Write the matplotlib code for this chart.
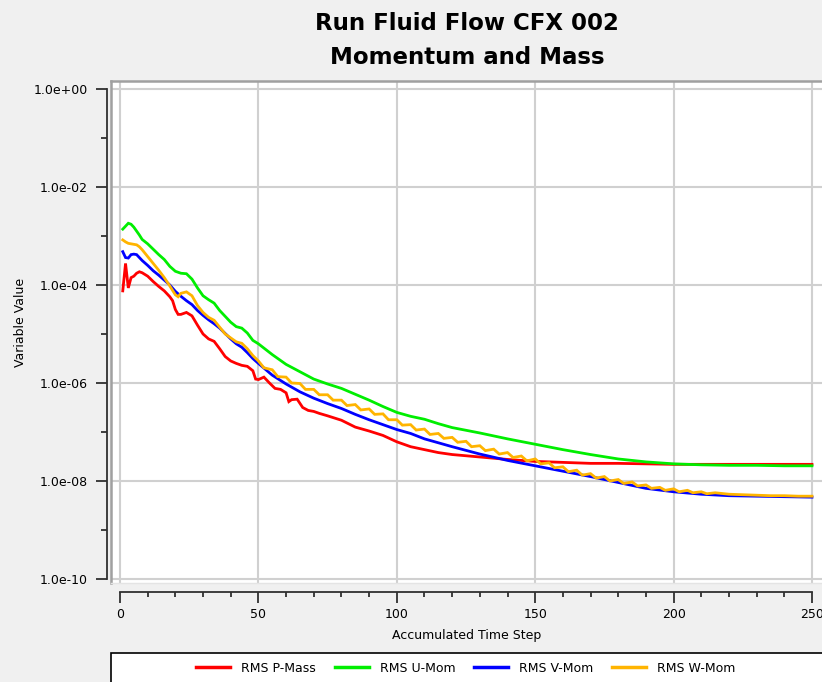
import numpy as np
import matplotlib
matplotlib.use("Agg")
import matplotlib.pyplot as plt
from matplotlib.lines import Line2D
from matplotlib.patches import Rectangle
from matplotlib.ticker import FixedLocator, NullLocator, NullFormatter

# residual histories, stored as log10 of the RMS value
p_mass_steps = [1, 2, 3, 4, 5, 6, 7, 8, 10, 12, 14, 16, 18, 19, 20, 21, 22, 24, 26, 28,
                30, 32, 34, 36, 38, 40, 42, 44, 46, 48, 49, 50, 52, 54, 56, 58, 60, 61,
                62, 64, 66, 68, 70, 72, 75, 80, 85, 90, 95, 100, 105, 110, 115, 120,
                130, 140, 150, 160, 170, 180, 190, 200, 210, 220, 230, 240, 250]
p_mass_log10 = [-4.12, -3.56, -4.06, -3.85, -3.82, -3.76, -3.73, -3.75, -3.82, -3.93,
                -4.03, -4.12, -4.24, -4.32, -4.50, -4.60, -4.60, -4.56, -4.63, -4.82,
                -5.00, -5.10, -5.15, -5.30, -5.46, -5.55, -5.60, -5.64, -5.66, -5.75,
                -5.92, -5.93, -5.88, -6.00, -6.11, -6.13, -6.20, -6.38, -6.34, -6.33,
                -6.50, -6.56, -6.58, -6.62, -6.67, -6.76, -6.90, -6.98, -7.07, -7.20,
                -7.30, -7.36, -7.42, -7.46, -7.51, -7.56, -7.60, -7.62, -7.64, -7.64,
                -7.65, -7.66, -7.66, -7.66, -7.66, -7.66, -7.66]

mom_steps = [1, 2, 3, 4, 5, 6, 7, 8, 10, 12, 14, 16, 18, 20, 22, 24, 26, 28, 30, 32,
             34, 36, 38, 40, 42, 44, 46, 48, 50, 55, 60, 65, 70, 75, 80, 85, 90, 95,
             100, 105, 110, 115, 120, 130, 140, 150, 160, 170, 180, 190, 200, 210,
             220, 230, 240, 250]
u_mom_log10 = [-2.86, -2.80, -2.74, -2.76, -2.82, -2.90, -2.98, -3.07, -3.16, -3.27,
               -3.38, -3.48, -3.62, -3.72, -3.76, -3.77, -3.88, -4.06, -4.22, -4.30,
               -4.37, -4.52, -4.64, -4.76, -4.85, -4.88, -4.98, -5.13, -5.20, -5.42,
               -5.62, -5.77, -5.92, -6.02, -6.11, -6.23, -6.35, -6.48, -6.60, -6.68,
               -6.74, -6.83, -6.91, -7.02, -7.14, -7.25, -7.36, -7.46, -7.55, -7.61,
               -7.65, -7.67, -7.68, -7.68, -7.69, -7.69]
v_mom_log10 = [-3.32, -3.44, -3.45, -3.38, -3.37, -3.38, -3.44, -3.50, -3.60, -3.71,
               -3.80, -3.90, -4.00, -4.13, -4.23, -4.32, -4.40, -4.52, -4.62, -4.71,
               -4.79, -4.88, -4.99, -5.10, -5.20, -5.27, -5.38, -5.50, -5.60, -5.84,
               -6.02, -6.18, -6.31, -6.42, -6.52, -6.64, -6.75, -6.85, -6.95, -7.03,
               -7.14, -7.22, -7.30, -7.45, -7.58, -7.69, -7.80, -7.91, -8.03, -8.15,
               -8.22, -8.27, -8.30, -8.31, -8.32, -8.33]

w_mom_steps = [1, 2, 3, 4, 5, 6, 7, 8, 10, 12, 14, 16, 18, 20, 21, 22, 24, 26, 28, 30,
               32, 34, 36, 38, 40, 42, 44, 46, 48, 50, 52, 55, 57, 60, 62, 65, 67, 70,
               72, 75, 77, 80, 82, 85, 87, 90, 92, 95, 97, 100, 102, 105, 107, 110,
               112, 115, 117, 120, 122, 125, 127, 130, 132, 135, 137, 140, 142, 145,
               147, 150, 152, 155, 157, 160, 162, 165, 167, 170, 172, 175, 177, 180,
               182, 185, 187, 190, 192, 195, 197, 200, 202, 205, 207, 210, 212, 215,
               220, 225, 230, 235, 240, 245, 250]
w_mom_log10 = [-3.08, -3.12, -3.15, -3.16, -3.17, -3.18, -3.22, -3.28, -3.42, -3.56,
               -3.70, -3.85, -4.02, -4.20, -4.24, -4.17, -4.14, -4.22, -4.42, -4.56,
               -4.66, -4.72, -4.86, -5.00, -5.08, -5.16, -5.19, -5.30, -5.44, -5.55,
               -5.69, -5.73, -5.87, -5.88, -6.00, -6.01, -6.13, -6.13, -6.24, -6.24,
               -6.35, -6.35, -6.46, -6.44, -6.55, -6.53, -6.64, -6.63, -6.75, -6.75,
               -6.86, -6.85, -6.96, -6.94, -7.05, -7.03, -7.13, -7.11, -7.21, -7.19,
               -7.30, -7.28, -7.38, -7.35, -7.45, -7.42, -7.52, -7.49, -7.59, -7.55,
               -7.65, -7.63, -7.73, -7.71, -7.81, -7.78, -7.88, -7.85, -7.94, -7.91,
               -8.00, -7.97, -8.05, -8.02, -8.10, -8.08, -8.15, -8.13, -8.19, -8.16,
               -8.22, -8.19, -8.24, -8.22, -8.26, -8.24, -8.27, -8.28, -8.29, -8.30,
               -8.30, -8.31, -8.31]

labels = ["RMS P-Mass", "RMS U-Mom", "RMS V-Mom", "RMS W-Mom"]
colors = ["#ff0000", "#00ee00", "#0000ff", "#ffb400"]

x_ticks = [0, 50, 100, 150, 200, 250]
y_ticks = [1e0, 1e-2, 1e-4, 1e-6, 1e-8, 1e-10]
y_minor = [1e-1, 1e-3, 1e-5, 1e-7, 1e-9]

W, H = 822, 682
fig = plt.figure(figsize=(W / 100, H / 100), dpi=100, facecolor="#f0f0f0")

# plot area in pixels
left, top, bottom = 111, 81, 583
x0_px, px_per_step = 120, 2.768
xlim = ((left - x0_px) / px_per_step, (W - x0_px) / px_per_step)
px_per_dec = 49.0
ylim = (10 ** (-10 - 4 / px_per_dec), 10 ** (8 / px_per_dec))

rect = [left / W, 1 - bottom / H, 1 - left / W, (bottom - top) / H]
ax = fig.add_axes(rect, facecolor="white")
ax.set_yscale("log")
ax.set_xlim(*xlim)
ax.set_ylim(*ylim)
ax.set_xticks(x_ticks)
ax.yaxis.set_major_locator(FixedLocator(y_ticks))
ax.yaxis.set_minor_locator(NullLocator())
ax.tick_params(length=0, labelleft=False, labelbottom=False)
ax.grid(True, color="#d0d0d0", lw=1.5)
ax.set_axisbelow(True)
for s in ["top", "left"]:
    ax.spines[s].set_color("#a0a0a0")
    ax.spines[s].set_linewidth(1.8)
ax.spines["bottom"].set_color("#e4e4e4")
ax.spines["bottom"].set_linewidth(1.0)
ax.spines["right"].set_visible(False)

series = [(p_mass_steps, p_mass_log10), (mom_steps, u_mom_log10),
          (mom_steps, v_mom_log10), (w_mom_steps, w_mom_log10)]
for (st, lg), c in zip(series, colors):
    ax.plot(st, 10 ** np.array(lg), color=c, lw=2.0, solid_joinstyle="miter")

# detached y ruler
ay = fig.add_axes([107 / W, rect[1], 1e-4, rect[3]], facecolor="none")
ay.set_yscale("log")
ay.set_ylim(*ylim)
ay.set_xticks([])
for s in ["top", "right", "bottom"]:
    ay.spines[s].set_visible(False)
ay.spines["left"].set_bounds(1e-10, 1e0)
ay.spines["left"].set_color("#303030")
ay.spines["left"].set_linewidth(1.3)
ay.yaxis.set_major_locator(FixedLocator(y_ticks))
ay.yaxis.set_minor_locator(FixedLocator(y_minor))
ay.yaxis.set_minor_formatter(NullFormatter())
ay.set_yticklabels([f"{v:.1e}" for v in y_ticks])
ay.tick_params(axis="y", which="major", length=8, width=1.3, color="#303030",
               pad=6, labelsize=9)
ay.tick_params(axis="y", which="minor", length=4.3, width=1.3, color="#303030")

# detached x ruler
axx = fig.add_axes([rect[0], 1 - 592 / H, rect[2], 1e-4], facecolor="none")
axx.set_xlim(*xlim)
axx.set_yticks([])
for s in ["top", "right", "left"]:
    axx.spines[s].set_visible(False)
axx.spines["bottom"].set_bounds(0, 250)
axx.spines["bottom"].set_color("#303030")
axx.spines["bottom"].set_linewidth(1.3)
axx.set_xticks(x_ticks)
axx.set_xticks(np.arange(0, 251, 10), minor=True)
axx.tick_params(axis="x", which="major", length=8, width=1.3, color="#303030",
                pad=3.5, labelsize=9)
axx.tick_params(axis="x", which="minor", length=3.8, width=1.3, color="#303030")

fig.text(467 / W, 1 - 636 / H, "Accumulated Time Step", ha="center", va="center",
         fontsize=9)
fig.text(20 / W, 1 - 322 / H, "Variable Value", ha="center", va="center",
         rotation=90, fontsize=9)

fig.text(467 / W, 1 - 23 / H, "Run Fluid Flow CFX 002", ha="center", va="center",
         fontsize=16.5, fontweight="bold")
fig.text(467 / W, 1 - 58 / H, "Momentum and Mass", ha="center", va="center",
         fontsize=16.5, fontweight="bold")

# legend panel
fig.add_artist(Rectangle((left / W, -0.02), 1, (H - 653) / H + 0.02,
                         transform=fig.transFigure, fc="white", ec="black", lw=1.2))
handles = [Line2D([], [], color=c, lw=2.5) for c in colors]
fig.legend(handles, labels, ncol=4, loc="center", frameon=False,
           bbox_to_anchor=(466 / W, 1 - 668 / H), fontsize=9,
           handlelength=2.7, handletextpad=0.9, columnspacing=1.5)

fig.savefig("out.png", dpi=100, facecolor=fig.get_facecolor())
